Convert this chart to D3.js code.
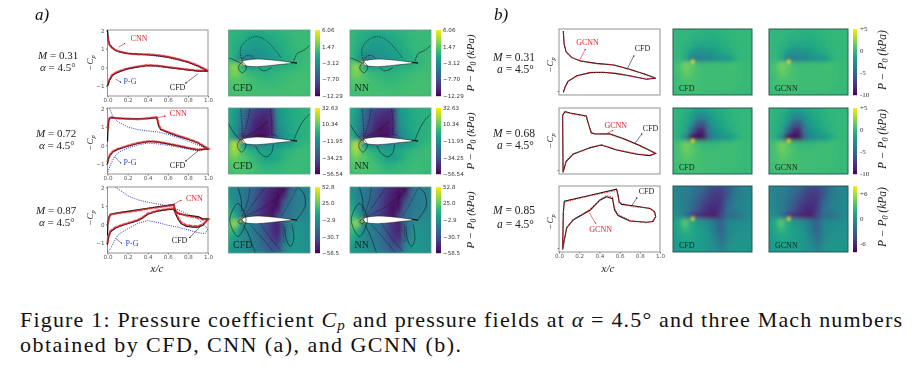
<!DOCTYPE html>
<html>
<head>
<meta charset="utf-8">
<script src="https://cdnjs.cloudflare.com/ajax/libs/d3/7.8.5/d3.min.js"></script>
<style>
	html, body { margin: 0; padding: 0; background: #fff; }
	svg { display: block; font-family: 'Liberation Serif', serif; }
	.tick text { font-family: 'DejaVu Sans', sans-serif; fill: #555; }
	.tick line, .axis path { stroke: #777; }
</style>
</head>
<body>
<svg id="chart" width="918" height="372"></svg>
<script>
const WIDTH = 918;
const HEIGHT = 372;

// Cp curves, [x/c, -Cp]
const cfdA1 = [[0, 2], [0.005, 1.7], [0.01, 1.45], [0.02, 1.25], [0.04, 1.1], [0.07, 0.95], [0.1, 0.87], [0.15, 0.8], [0.2, 0.76], [0.3, 0.72], [0.4, 0.68], [0.5, 0.63], [0.6, 0.55], [0.7, 0.43], [0.8, 0.28], [0.9, 0.07], [1, -0.2], [0.9, -0.2], [0.8, -0.14], [0.7, -0.07], [0.6, 0], [0.5, 0.08], [0.4, 0.1], [0.3, 0.03], [0.2, -0.08], [0.15, -0.17], [0.1, -0.27], [0.05, -0.42], [0.02, -0.7], [0.005, -0.95], [0, -1]];
const cnnA1 = [[0.005, 1.6], [0.01, 1.4], [0.02, 1.22], [0.04, 1.08], [0.07, 0.97], [0.1, 0.88], [0.15, 0.82], [0.2, 0.75], [0.3, 0.7], [0.4, 0.7], [0.5, 0.66], [0.6, 0.58], [0.7, 0.45], [0.8, 0.3], [0.9, 0.1], [1, -0.18], [0.9, -0.17], [0.8, -0.12], [0.7, -0.05], [0.6, 0.02], [0.5, 0.09], [0.4, 0.12], [0.3, 0.05], [0.2, -0.06], [0.15, -0.14], [0.1, -0.24], [0.05, -0.38], [0.02, -0.65], [0.005, -0.9]];
const pgA1 = [[0, 2], [0.005, 1.65], [0.01, 1.42], [0.02, 1.23], [0.04, 1.09], [0.07, 0.94], [0.1, 0.85], [0.2, 0.75], [0.4, 0.67], [0.6, 0.53], [0.8, 0.27], [1, -0.2], [0.8, -0.15], [0.6, -0.02], [0.4, 0.09], [0.2, -0.09], [0.1, -0.29], [0.05, -0.45], [0.02, -0.72], [0, -1.05]];
const cfdA2 = [[0, -1], [0.01, -0.7], [0.03, -0.5], [0.06, -0.33], [0.1, -0.22], [0.2, -0.05], [0.3, 0.1], [0.4, 0.2], [0.45, 0.2], [0.5, 0.17], [0.6, 0.08], [0.7, -0.03], [0.8, -0.15], [0.9, -0.25], [1, -0.2], [0.9, 0.13], [0.8, 0.33], [0.7, 0.5], [0.6, 0.7], [0.53, 0.85], [0.51, 1.05], [0.5, 1.3], [0.49, 1.5], [0.4, 1.45], [0.3, 1.43], [0.2, 1.43], [0.1, 1.47], [0.04, 1.5], [0.02, 1.45], [0.01, 1.3], [0.005, 0.9], [0, 0.2]];
const cnnA2 = [[0, -0.9], [0.01, -0.68], [0.03, -0.46], [0.06, -0.3], [0.1, -0.2], [0.2, -0.02], [0.3, 0.13], [0.4, 0.22], [0.45, 0.22], [0.5, 0.19], [0.6, 0.1], [0.7, -0.01], [0.8, -0.13], [0.9, -0.23], [1, -0.17], [0.9, 0.15], [0.8, 0.36], [0.7, 0.53], [0.6, 0.72], [0.53, 0.88], [0.51, 1.1], [0.5, 1.34], [0.49, 1.52], [0.4, 1.47], [0.3, 1.41], [0.2, 1.45], [0.1, 1.45], [0.04, 1.52], [0.02, 1.47], [0.01, 1.25], [0.005, 0.85]];
const pgA2 = [[0.02, 2], [0.05, 1.6], [0.1, 1.28], [0.2, 1], [0.3, 0.85], [0.4, 0.78], [0.5, 0.72], [0.6, 0.6], [0.7, 0.42], [0.8, 0.23], [0.9, 0.02], [1, -0.2], [0.9, -0.3], [0.8, -0.2], [0.7, -0.1], [0.6, 0], [0.5, 0.08], [0.4, 0.12], [0.3, 0.02], [0.2, -0.15], [0.12, -0.35], [0.07, -0.6], [0.03, -1.05], [0, -1.5]];
const cfdA3 = [[0, -1.1], [0.01, -0.7], [0.03, -0.4], [0.08, -0.2], [0.15, -0.05], [0.2, 0.03], [0.3, 0.2], [0.35, 0.35], [0.4, 0.55], [0.5, 0.72], [0.6, 0.8], [0.66, 0.82], [0.68, 0.55], [0.7, 0.3], [0.73, 0.05], [0.78, -0.1], [0.85, -0.15], [0.9, -0.15], [0.95, -0.05], [1, 0.3], [0.95, 0.3], [0.9, 0.42], [0.8, 0.48], [0.72, 0.55], [0.69, 0.62], [0.67, 0.8], [0.66, 1.08], [0.6, 1.03], [0.5, 0.95], [0.4, 0.87], [0.3, 0.78], [0.2, 0.7], [0.1, 0.62], [0.03, 0.55], [0.015, 0.4], [0.005, 0.1], [0, -0.6]];
const cnnA3 = [[0, -1], [0.01, -0.65], [0.03, -0.36], [0.08, -0.16], [0.15, -0.02], [0.2, 0.06], [0.3, 0.23], [0.35, 0.38], [0.4, 0.58], [0.5, 0.75], [0.6, 0.83], [0.66, 0.85], [0.68, 0.6], [0.7, 0.38], [0.73, 0.12], [0.78, -0.04], [0.85, -0.1], [0.9, -0.1], [0.95, 0], [1, 0.25], [0.95, 0.25], [0.9, 0.36], [0.8, 0.45], [0.72, 0.58], [0.69, 0.66], [0.67, 0.84], [0.66, 1.05], [0.6, 1], [0.5, 0.92], [0.4, 0.84], [0.3, 0.75], [0.2, 0.67], [0.1, 0.6], [0.03, 0.52], [0.015, 0.36], [0.005, 0.05]];
const pgA3 = [[0.08, 2], [0.15, 1.75], [0.2, 1.55], [0.3, 1.33], [0.4, 1.2], [0.5, 1.1], [0.6, 1], [0.7, 0.8], [0.8, 0.55], [0.9, 0.3], [1, -0.25], [0.97, -0.5], [0.9, -0.45], [0.8, -0.3], [0.7, -0.15], [0.6, -0.05], [0.5, 0.1], [0.4, 0.2], [0.3, 0.05], [0.2, -0.25], [0.15, -0.4], [0.1, -0.6], [0.07, -0.9], [0.03, -1.3], [0, -1.5]];

const cfdB1 = [[0.043, 2], [0.05, 1.37], [0.07, 0.96], [0.125, 0.68], [0.21, 0.5], [0.37, 0.38], [0.54, 0.3], [0.7, 0.09], [0.865, -0.19], [0.957, -0.36], [0.865, -0.41], [0.7, -0.24], [0.57, -0.13], [0.44, -0.06], [0.31, -0.08], [0.175, -0.24], [0.09, -0.52], [0.06, -0.8], [0.043, -1.07]];
const gcnnB1 = [[0.043, 1.96], [0.05, 1.34], [0.07, 0.98], [0.125, 0.66], [0.21, 0.52], [0.37, 0.36], [0.54, 0.32], [0.7, 0.07], [0.865, -0.17], [0.957, -0.35], [0.865, -0.39], [0.7, -0.26], [0.57, -0.11], [0.44, -0.08], [0.31, -0.06], [0.175, -0.26], [0.09, -0.5], [0.06, -0.78], [0.043, -1.05]];
const cfdB2 = [[0.04, -1.12], [0.036, 1.74], [0.06, 1.92], [0.11, 1.85], [0.27, 1.7], [0.29, 1.32], [0.32, 0.85], [0.355, 0.8], [0.5, 0.81], [0.635, 0.57], [0.8, 0.23], [0.957, -0.17], [0.9, -0.28], [0.77, -0.21], [0.57, 0], [0.42, 0.25], [0.31, 0.12], [0.14, -0.21], [0.07, -0.58], [0.04, -1.12]];
const gcnnB2 = [[0.04, -1.1], [0.036, 1.72], [0.06, 1.9], [0.11, 1.83], [0.27, 1.68], [0.29, 1.35], [0.32, 0.88], [0.355, 0.82], [0.5, 0.79], [0.635, 0.55], [0.8, 0.21], [0.957, -0.15], [0.9, -0.26], [0.77, -0.19], [0.57, 0.02], [0.42, 0.27], [0.31, 0.1], [0.14, -0.19], [0.07, -0.56], [0.04, -1.1]];
const cfdB3 = [[0.036, -1.08], [0.043, 0.81], [0.053, 1.34], [0.31, 1.64], [0.57, 1.94], [0.585, 1.64], [0.595, 1.31], [0.62, 1.18], [0.73, 1.11], [0.9, 0.98], [0.947, 0.81], [0.957, 0.57], [0.93, 0.32], [0.865, 0.29], [0.7, 0.35], [0.585, 0.62], [0.55, 0.9], [0.53, 1.47], [0.47, 1.56], [0.405, 1.39], [0.31, 0.9], [0.14, 0.4], [0.076, 0], [0.05, -0.67], [0.036, -1.08]];
const gcnnB3 = [[0.036, -1.05], [0.043, 0.78], [0.053, 1.3], [0.31, 1.61], [0.57, 1.88], [0.585, 1.6], [0.595, 1.25], [0.62, 1.24], [0.73, 1.06], [0.9, 1], [0.947, 0.78], [0.957, 0.55], [0.93, 0.36], [0.865, 0.26], [0.7, 0.38], [0.585, 0.68], [0.55, 0.98], [0.53, 1.54], [0.47, 1.62], [0.405, 1.42], [0.31, 0.94], [0.14, 0.42], [0.076, 0.02], [0.05, -0.64], [0.036, -1.05]];

// pressure fields, kPa, 16 columns by 12 rows
const fieldA1 = [
	[0, 0, -0.2, -0.3, -0.5, -0.6, -0.6, -0.5, -0.4, -0.3, -0.1, 0, 0, 0.1, 0.1, 0.1],
	[0, -0.2, -0.4, -0.8, -1, -1.2, -1.2, -1, -0.9, -0.6, -0.3, -0.1, 0, 0.1, 0.1, 0.1],
	[0, -0.2, -0.6, -1, -1.5, -1.8, -1.8, -1.6, -1.3, -0.9, -0.5, -0.2, 0, 0.1, 0.1, 0.2],
	[0.1, -0.2, -0.8, -1.5, -2, -2.3, -2.3, -2, -1.6, -1.2, -0.7, -0.3, -0.1, 0.1, 0.2, 0.2],
	[0.2, -0.2, -1, -2.5, -3, -3, -2.8, -2.5, -2, -1.5, -1, -0.5, -0.2, 0, 0.2, 0.3],
	[0.4, 0.3, -1.5, -5, -4.5, -3.5, -3.2, -2.8, -2.3, -1.8, -1.2, -0.7, -0.3, 0, 0.2, 0.3],
	[0.6, 1.5, 3, -1, -2, -2, -1.8, -1.5, -1.2, -1, -0.7, -0.5, -0.2, 0.2, 0.3, 0.4],
	[0.6, 1.5, 2.5, 1, 0.2, -0.2, -0.4, -0.6, -0.4, -0.2, 0, 0.1, 0.3, 0.4, 0.4, 0.4],
	[0.5, 1, 1.3, 1, 0.6, 0.3, 0, -0.3, -0.2, 0.1, 0.3, 0.4, 0.5, 0.5, 0.5, 0.4],
	[0.4, 0.6, 0.8, 0.8, 0.6, 0.5, 0.3, 0.2, 0.2, 0.3, 0.4, 0.5, 0.5, 0.5, 0.4, 0.4],
	[0.3, 0.4, 0.5, 0.6, 0.6, 0.5, 0.4, 0.4, 0.4, 0.4, 0.4, 0.5, 0.5, 0.4, 0.4, 0.3],
	[0.2, 0.3, 0.4, 0.5, 0.5, 0.5, 0.4, 0.4, 0.4, 0.4, 0.4, 0.4, 0.4, 0.3, 0.3, 0.3]
];
const fieldA2 = [
	[-1, -2, -7, -18, -30, -34, -38, -40, -40, -8, -4, -2, -1, 0, 0, 0],
	[-1, -2, -8, -20, -32, -38, -42, -44, -42, -9, -5, -3, -1, 0, 0, 1],
	[-1, -3, -9, -22, -34, -42, -46, -48, -44, -10, -6, -3, -1, 0, 1, 1],
	[0, -3, -10, -24, -36, -46, -50, -50, -46, -12, -7, -4, -2, 0, 1, 2],
	[0, -2, -12, -28, -40, -48, -52, -52, -46, -15, -8, -4, -2, 0, 1, 2],
	[2, 1, -14, -42, -48, -52, -54, -54, -44, -20, -10, -5, -2, 0, 1, 2],
	[5, 10, 24, -8, -14, -16, -16, -14, -12, -10, -7, -5, -1, 2, 3, 3],
	[5, 12, 20, 8, 2, -1, -4, -6, -5, -3, 0, 2, 3, 4, 4, 3],
	[5, 10, 12, 9, 6, 2, -2, -6, -6, -3, 1, 3, 4, 4, 4, 3],
	[4, 7, 9, 8, 7, 5, 2, 0, 0, 2, 3, 4, 4, 4, 3, 3],
	[3, 5, 7, 7, 6, 6, 4, 3, 3, 3, 4, 4, 4, 3, 3, 2],
	[2, 4, 5, 6, 6, 5, 4, 4, 4, 4, 4, 3, 3, 3, 2, 2]
];
const fieldA3 = [
	[-2, -4, -8, -12, -18, -24, -32, -40, -46, -50, -52, -50, -14, -10, -9, -8],
	[0, -3, -8, -12, -18, -25, -34, -42, -48, -52, -54, -24, -14, -10, -9, -8],
	[2, -1, -7, -12, -18, -26, -36, -44, -50, -54, -46, -18, -13, -10, -9, -8],
	[8, 5, -5, -12, -20, -28, -38, -46, -52, -54, -28, -16, -12, -10, -8, -7],
	[14, 12, -3, -14, -22, -30, -40, -48, -54, -48, -20, -15, -12, -9, -8, -6],
	[18, 18, 10, -18, -26, -34, -42, -50, -54, -32, -18, -14, -11, -8, -7, -6],
	[20, 22, 34, -4, -8, -14, -22, -32, -42, -48, -20, -8, -3, -4, -5, -5],
	[16, 18, 12, -5, -9, -15, -22, -32, -44, -48, -20, -5, 0, -4, -5, -5],
	[9, 10, 4, -5, -9, -14, -20, -30, -40, -44, -16, -3, 1, -4, -5, -5],
	[3, 4, 0, -4, -8, -12, -18, -26, -34, -36, -10, -2, 0, -4, -4, -4],
	[0, 1, -1, -3, -6, -10, -15, -21, -26, -26, -6, -1, -1, -3, -4, -4],
	[-1, 0, -1, -2, -4, -8, -11, -15, -18, -14, -4, -1, -1, -3, -3, -3]
];
const fieldB1 = [
	[0, 0, 0, -0.1, -0.1, -0.2, -0.2, -0.2, -0.2, -0.2, -0.1, -0.1, 0, 0, 0, 0],
	[0, 0, -0.1, -0.1, -0.2, -0.3, -0.4, -0.4, -0.3, -0.3, -0.2, -0.1, 0, 0, 0, 0],
	[0, 0, -0.1, -0.2, -0.4, -0.6, -0.7, -0.7, -0.6, -0.4, -0.3, -0.1, 0, 0, 0, 0],
	[0, 0, -0.1, -0.3, -0.7, -1.1, -1.2, -1.1, -0.9, -0.7, -0.4, -0.2, -0.1, 0, 0, 0],
	[0, 0, -0.2, -0.6, -1.6, -2.4, -2.3, -2, -1.6, -1.2, -0.8, -0.3, -0.1, 0, 0, 0],
	[0, 0, -0.2, -1, -3.8, -3.8, -3.4, -3, -2.7, -2.3, -1.9, -1, -0.2, 0, 0, 0],
	[0.1, 0.2, 0.5, 1.8, 1.2, 0.4, 0.3, 0.3, 0.3, 0.3, 0.4, 0.5, 0.2, 0.1, 0.1, 0],
	[0.1, 0.2, 0.5, 1.4, 1, 0.5, 0.3, 0.3, 0.3, 0.3, 0.3, 0.3, 0.2, 0.1, 0.1, 0],
	[0.1, 0.2, 0.4, 0.7, 0.7, 0.5, 0.3, 0.3, 0.3, 0.3, 0.3, 0.2, 0.2, 0.1, 0.1, 0],
	[0.1, 0.1, 0.3, 0.4, 0.5, 0.4, 0.3, 0.3, 0.3, 0.2, 0.2, 0.2, 0.1, 0.1, 0, 0],
	[0, 0.1, 0.2, 0.3, 0.3, 0.3, 0.2, 0.2, 0.2, 0.2, 0.2, 0.1, 0.1, 0, 0, 0],
	[0, 0.1, 0.1, 0.2, 0.2, 0.2, 0.2, 0.2, 0.1, 0.1, 0.1, 0.1, 0, 0, 0, 0]
];
const fieldB2 = [
	[0, -0.1, -0.2, -0.4, -0.7, -0.9, -1, -0.9, -0.7, -0.5, -0.3, -0.1, 0, 0, 0, 0],
	[0, -0.1, -0.3, -0.5, -1, -1.6, -1.8, -1.3, -1, -0.7, -0.4, -0.2, -0.1, 0, 0, 0],
	[0, -0.1, -0.3, -0.7, -1.4, -2.8, -3.2, -2, -1.3, -0.9, -0.5, -0.3, -0.1, 0, 0, 0],
	[0, -0.1, -0.4, -0.9, -2.4, -5.5, -6, -2.8, -1.7, -1.1, -0.7, -0.3, -0.1, 0, 0, 0],
	[0, -0.1, -0.5, -1.2, -4.8, -8.5, -8.5, -3.8, -2.2, -1.6, -1, -0.5, -0.2, 0, 0, 0],
	[0, -0.1, -0.6, -2.6, -9.5, -10, -9.5, -4.2, -3, -2.5, -2, -1.1, -0.3, 0, 0, 0],
	[0.1, 0.2, 0.5, 1.8, 1, 0.2, 0, 0, 0, 0.2, 0.3, 0.4, 0.2, 0.1, 0, 0],
	[0.1, 0.3, 0.6, 1.5, 1.1, 0.6, 0.3, 0.3, 0.3, 0.3, 0.3, 0.3, 0.2, 0.1, 0, 0],
	[0.1, 0.3, 0.5, 0.9, 0.8, 0.6, 0.4, 0.4, 0.4, 0.3, 0.3, 0.2, 0.2, 0.1, 0, 0],
	[0.1, 0.2, 0.4, 0.6, 0.6, 0.5, 0.4, 0.4, 0.3, 0.3, 0.2, 0.2, 0.1, 0.1, 0, 0],
	[0.1, 0.1, 0.3, 0.4, 0.4, 0.4, 0.3, 0.3, 0.3, 0.2, 0.2, 0.1, 0.1, 0, 0, 0],
	[0, 0.1, 0.2, 0.3, 0.3, 0.3, 0.3, 0.2, 0.2, 0.2, 0.1, 0.1, 0.1, 0, 0, 0]
];
const fieldB3 = [
	[-0.6, -0.8, -1, -1.2, -1.5, -2, -2.6, -3.2, -3.6, -3.8, -3.2, -1.8, -1, -0.7, -0.6, -0.6],
	[-0.6, -0.8, -1, -1.2, -1.6, -2.2, -3, -4, -4.6, -4.6, -3.6, -2, -1.1, -0.8, -0.6, -0.6],
	[-0.5, -0.7, -0.9, -1.2, -1.8, -2.6, -3.6, -4.6, -5.2, -5.2, -3.6, -1.8, -1.1, -0.8, -0.6, -0.5],
	[-0.4, -0.6, -0.9, -1.3, -2, -3.2, -4.4, -5.4, -5.8, -5.4, -3, -1.6, -1, -0.7, -0.5, -0.5],
	[-0.2, -0.4, -0.7, -1.4, -2.6, -4, -5.2, -6, -6.2, -5, -2.4, -1.4, -1, -0.6, -0.5, -0.4],
	[0, 0, -0.3, -1.6, -4.6, -5.6, -6.2, -6.6, -6.6, -4.4, -2.4, -2.4, -1.6, -0.7, -0.4, -0.3],
	[0.4, 0.8, 1.6, 3.8, 1.6, 0.6, 0, -0.6, -2, -3, -1, -0.4, -0.3, -0.2, -0.2, -0.2],
	[0.4, 0.8, 1.4, 2.6, 1.6, 1, 0.5, -0.3, -1.8, -3, -1, -0.2, 0, 0, 0, 0],
	[0.4, 0.6, 1, 1.6, 1.4, 1, 0.6, 0, -1.2, -2.4, -0.8, 0, 0.2, 0.2, 0.1, 0],
	[0.3, 0.5, 0.7, 1, 1, 0.8, 0.6, 0.1, -0.7, -1.6, -0.4, 0.2, 0.4, 0.4, 0.2, 0.2],
	[0.2, 0.4, 0.5, 0.7, 0.8, 0.7, 0.6, 0.3, -0.2, -0.8, 0, 0.4, 0.5, 0.4, 0.3, 0.2],
	[0.2, 0.3, 0.4, 0.5, 0.6, 0.6, 0.5, 0.4, 0.2, 0, 0.3, 0.5, 0.5, 0.4, 0.3, 0.2]
];

const ticksA1 = [6.06, 1.47, -3.12, -7.70, -12.29];
const ticksA2 = [32.63, 10.34, -11.95, -34.25, -56.54];
const ticksA3 = [52.8, 25.0, -2.9, -30.7, -58.5];
const ticksB12 = [5, 0, -5, -10];
const ticksB3 = [6, 0, -6];

// airfoil and contour lines, as fractions of the field panel
const airfoil = [[0.165, 0.5], [0.18, 0.47], [0.25, 0.45], [0.35, 0.44], [0.5, 0.45], [0.65, 0.47], [0.8, 0.495], [0.84, 0.5], [0.8, 0.505], [0.65, 0.52], [0.5, 0.54], [0.35, 0.555], [0.25, 0.55], [0.18, 0.53]];
const contoursA1 = [
	{ dash: false, pts: [[0, 0.42], [0.08, 0.46], [0.15, 0.5]] },
	{ dash: false, pts: [[0.8, 0.48], [0.84, 0.36], [0.92, 0.31], [1, 0.23]] },
	{ dash: true, pts: [[0.165, 0.47], [0.145, 0.3], [0.2, 0.18], [0.33, 0.1], [0.45, 0.15], [0.57, 0.3], [0.65, 0.43]] },
	{ dash: true, pts: [[0.165, 0.47], [0.2, 0.4], [0.27, 0.39], [0.33, 0.45]] },
	{ dash: false, pts: [[0.37, 0.57], [0.43, 0.62], [0.53, 0.57]] },
	{ closed: true, pts: [[0.17, 0.49], [0.22, 0.57], [0.17, 0.65], [0.12, 0.57]] }
];
const contoursA2 = [
	{ dash: false, pts: [[0, 0.24], [0.08, 0.4], [0.16, 0.5]] },
	{ dash: false, pts: [[0.8, 0.5], [0.84, 0.37], [0.92, 0.19], [1, 0.09]] },
	{ dash: true, pts: [[0.15, 0], [0.165, 0.25], [0.17, 0.47]] },
	{ dash: true, pts: [[0.265, 0], [0.235, 0.19], [0.18, 0.45]] },
	{ dash: true, pts: [[0.18, 0.45], [0.33, 0.35], [0.49, 0.2]] },
	{ dash: true, pts: [[0.51, 0], [0.53, 0.19], [0.53, 0.42]] },
	{ dash: true, pts: [[0.53, 0.4], [0.59, 0.42], [0.61, 0.46]] },
	{ dash: false, pts: [[0.33, 0.57], [0.39, 0.69], [0.47, 0.74], [0.53, 0.67], [0.55, 0.55]] },
	{ closed: true, pts: [[0.16, 0.47], [0.213, 0.57], [0.16, 0.67], [0.107, 0.57]] }
];
const contoursA3 = [
	{ closed: true, pts: [[0.115, 0.25], [0.215, 0.5], [0.115, 0.75], [0.015, 0.5]] },
	{ closed: true, pts: [[0.15, 0.49], [0.18, 0.525], [0.15, 0.56], [0.12, 0.525]] },
	{ dash: false, pts: [[0.115, 0], [0.155, 0.19], [0.16, 0.37]] },
	{ dash: false, pts: [[0.18, 0.57], [0.245, 0.72], [0.3, 0.9], [0.33, 1]] },
	{ dash: true, pts: [[0.16, 0.47], [0.235, 0.22], [0.265, 0]] },
	{ dash: true, pts: [[0.18, 0.47], [0.31, 0.24], [0.45, 0]] },
	{ dash: true, pts: [[0.2, 0.45], [0.41, 0.32], [0.57, 0.19], [0.73, 0]] },
	{ dash: true, dense: true, pts: [[0.84, 0.015], [0.755, 0.22], [0.65, 0.44]] },
	{ dash: false, pts: [[0.84, 0], [0.92, 0.09], [0.94, 0.29], [0.84, 0.49]] },
	{ dash: false, pts: [[0.78, 0.57], [0.8, 0.8], [0.76, 0.9], [0.71, 0.8], [0.69, 0.6]] },
	{ dash: true, pts: [[0.265, 0.57], [0.41, 0.77], [0.55, 0.98]] },
	{ dash: true, pts: [[0.39, 0.55], [0.53, 0.8], [0.65, 0.97]] },
	{ dash: true, dense: true, pts: [[0.67, 0.57], [0.68, 0.85]] }
];

const leftRows = [
	{
		top: 30, bottom: 96, cfd: cfdA1, net: cnnA1, pg: pgA1, field: fieldA1, ticks: ticksA1,
		domain: [-12.29, 6.06], contours: contoursA1, glow: 6, m: '0.31',
		mx: 38, ax: 40, mBase: 59, aBase: 71, cpMid: 63,
		notes: [
			{ text: 'CNN', color: '#d8262c', at: [0.23, 1.4], tip: [0.17, 1.28] },
			{ text: 'P-G', color: '#3446c8', at: [0.16, -0.9], tip: [0.13, -0.8], from: [0.08, -0.63] },
			{ text: 'CFD', color: '#222', at: [0.62, -1.2], tip: [0.78, -0.85], from: [0.9, -0.35] }
		]
	},
	{
		top: 108, bottom: 174, cfd: cfdA2, net: cnnA2, pg: pgA2, field: fieldA2, ticks: ticksA2,
		domain: [-56.54, 32.63], contours: contoursA2, glow: 32, m: '0.72',
		mx: 36, ax: 39, mBase: 137, aBase: 149, cpMid: 143,
		notes: [
			{ text: 'CNN', color: '#d8262c', at: [0.62, 1.6], tip: [0.57, 1.58], from: [0.5, 1.5] },
			{ text: 'P-G', color: '#3446c8', at: [0.16, -1.08], tip: [0.13, -0.95], from: [0.07, -0.6] },
			{ text: 'CFD', color: '#222', at: [0.62, -1.2], tip: [0.78, -0.85], from: [0.9, -0.3] }
		]
	},
	{
		top: 187, bottom: 253, cfd: cfdA3, net: cnnA3, pg: pgA3, field: fieldA3, ticks: ticksA3,
		domain: [-58.5, 52.8], contours: contoursA3, glow: 52, m: '0.87',
		mx: 36, ax: 39, mBase: 214, aBase: 226, cpMid: 218,
		notes: [
			{ text: 'CNN', color: '#d8262c', at: [0.78, 1.25], tip: [0.73, 1.3], from: [0.66, 1.1] },
			{ text: 'P-G', color: '#3446c8', at: [0.18, -1.18], tip: [0.14, -1.02], from: [0.08, -0.75] },
			{ text: 'CFD', color: '#222', at: [0.64, -1.02], tip: [0.82, -0.7], from: [0.92, -0.15] }
		]
	}
];
const rightRows = [
	{
		top: 29, bottom: 95, cfd: cfdB1, net: gcnnB1, field: fieldB1, ticks: ticksB12,
		domain: [-10, 5], glow: 5, m: '0.31', mBase: 61, aBase: 73, cpMid: 65,
		notes: [
			{ text: 'GCNN', color: '#d8262c', at: [0.17, 1.28], tip: [0.26, 1.08], from: [0.2, 0.5] },
			{ text: 'CFD', color: '#222', at: [0.75, 1], tip: [0.74, 0.75], from: [0.68, 0.15] }
		]
	},
	{
		top: 108, bottom: 174, cfd: cfdB2, net: gcnnB2, field: fieldB2, ticks: ticksB12,
		domain: [-10, 5], glow: 5, m: '0.68', mBase: 137, aBase: 149, cpMid: 141,
		notes: [
			{ text: 'GCNN', color: '#d8262c', at: [0.45, 1.12], tip: [0.53, 0.97], from: [0.47, 0.82] },
			{ text: 'CFD', color: '#222', at: [0.83, 0.97], tip: [0.82, 0.8], from: [0.75, 0.32] }
		]
	},
	{
		top: 186, bottom: 252, cfd: cfdB3, net: gcnnB3, field: fieldB3, ticks: ticksB3,
		domain: [-8, 8], glow: 8, m: '0.85', mBase: 214, aBase: 228, cpMid: 222,
		notes: [
			{ text: 'GCNN', color: '#d8262c', at: [0.3, -0.22], tip: [0.36, 0.25], from: [0.29, 0.85] },
			{ text: 'CFD', color: '#222', at: [0.79, 1.72], tip: [0.77, 1.5], from: [0.72, 1.12] }
		]
	}
];

const svg = d3.select('#chart');
const defs = svg.append('defs');
defs.append('filter').attr('id', 'fieldBlur')
	.attr('x', '-20%').attr('y', '-20%').attr('width', '140%').attr('height', '140%')
	.append('feGaussianBlur').attr('stdDeviation', 2.1);
defs.append('filter').attr('id', 'glowBlur')
	.attr('x', '-200%').attr('y', '-200%').attr('width', '500%').attr('height', '500%')
	.append('feGaussianBlur').attr('stdDeviation', 1.5);
defs.append('filter').attr('id', 'soft')
	.attr('x', '0').attr('y', '0').attr('width', WIDTH).attr('height', HEIGHT)
	.attr('filterUnits', 'userSpaceOnUse')
	.append('feGaussianBlur').attr('stdDeviation', 0.35);
defs.append('marker').attr('id', 'head')
	.attr('viewBox', '0 0 6 6').attr('refX', 3).attr('refY', 3)
	.attr('markerWidth', 2.6).attr('markerHeight', 2.6)
	.append('circle').attr('cx', 3).attr('cy', 3).attr('r', 3).attr('fill', 'context-stroke');

const $fig = svg.append('g').attr('filter', 'url(#soft)');
let clipId = 0;

function cpPanel(row, left, right, opts) {
	const x = d3.scaleLinear().domain([0, 1]).range([left, right]);
	const y = d3.scaleLinear().domain(opts.yDomain).range([row.bottom, row.top]);
	const line = d3.line().x(d => x(d[0])).y(d => y(d[1])).curve(d3.curveLinear);

	$fig.append('rect')
		.attr('x', left).attr('y', row.top)
		.attr('width', right - left).attr('height', row.bottom - row.top)
		.attr('fill', '#fff').attr('stroke', '#888').attr('stroke-width', 0.9);

	if (opts.showX) {
		const axisX = d3.axisBottom(x).tickValues([0, 0.2, 0.4, 0.6, 0.8, 1])
			.tickFormat(d3.format('.1f')).tickSize(1.5).tickPadding(1);
		const $x = $fig.append('g').attr('class', 'axis')
			.attr('transform', `translate(0,${row.bottom})`).call(axisX);
		$x.select('.domain').remove();
		$x.selectAll('text').attr('font-size', 5.6);
	}
	const axisY = d3.axisLeft(y).tickValues(opts.yTicks).tickFormat(d3.format('d'))
		.tickSize(1.5).tickPadding(1.5);
	const $y = $fig.append('g').attr('class', 'axis')
		.attr('transform', `translate(${left},0)`).call(axisY);
	$y.select('.domain').remove();
	if (opts.yLabels) {
		$y.selectAll('text').attr('font-size', 5.6);
	} else {
		$y.selectAll('text').remove();
	}

	const $lines = $fig.append('g');
	if (row.pg) {
		$lines.append('path').attr('d', line(row.pg))
			.attr('fill', 'none').attr('stroke', '#2f3fc4').attr('stroke-width', 1)
			.attr('stroke-dasharray', '1 1.2');
	}
	if (opts.halo) {
		$lines.append('path').attr('d', line(row.net))
			.attr('fill', 'none').attr('stroke', '#e8434a').attr('stroke-width', 2.6)
			.attr('opacity', 0.35);
	}
	$lines.append('path').attr('d', line(row.cfd))
		.attr('fill', 'none').attr('stroke', '#111').attr('stroke-width', opts.cfdWidth);
	$lines.append('path').attr('d', line(row.net))
		.attr('fill', 'none').attr('stroke', '#e0242c').attr('stroke-width', opts.netWidth)
		.attr('stroke-dasharray', opts.netDash).attr('opacity', 0.85);

	row.notes.forEach(d => {
		const from = d.from || [d.tip[0] - 0.06, d.tip[1] - 0.18];
		$fig.append('line')
			.attr('x1', x(from[0])).attr('y1', y(from[1]))
			.attr('x2', x(d.tip[0])).attr('y2', y(d.tip[1]))
			.attr('stroke', d.color).attr('stroke-width', 0.6)
			.attr('marker-end', 'url(#head)');
		$fig.append('text')
			.attr('x', x(d.at[0])).attr('y', y(d.at[1]))
			.attr('font-size', 8).attr('fill', d.color).text(d.text);
	});
}

function fieldPanel(row, left, right, label, opts) {
	const w = right - left;
	const h = row.bottom - row.top;
	const color = d3.scaleSequential(d3.interpolateViridis).domain(row.domain);
	const cols = d3.scaleBand().domain(d3.range(row.field[0].length)).range([left - 9, right + 9]);
	const rows = d3.scaleBand().domain(d3.range(row.field.length)).range([row.top - 9, row.bottom + 9]);
	const fx = d3.scaleLinear().domain([0, 1]).range([left, right]);
	const fy = d3.scaleLinear().domain([0, 1]).range([row.top, row.bottom]);

	const id = `panel${clipId++}`;
	defs.append('clipPath').attr('id', id).append('rect')
		.attr('x', left).attr('y', row.top).attr('width', w).attr('height', h);

	const $g = $fig.append('g').attr('clip-path', `url(#${id})`);
	$g.append('g').attr('filter', 'url(#fieldBlur)')
		.selectAll('g')
		.data(row.field)
		.join('g')
		.selectAll('rect')
		.data((d, j) => d.map((v, i) => ({ i, j, v })))
		.join('rect')
		.attr('x', d => cols(d.i))
		.attr('y', d => rows(d.j))
		.attr('width', cols.bandwidth() + 0.5)
		.attr('height', rows.bandwidth() + 0.5)
		.attr('fill', d => color(d.v));

	// stagnation point is hotter than the cells can show after the blur
	$g.append('circle')
		.attr('cx', fx(opts.le[0])).attr('cy', fy(opts.le[1])).attr('r', opts.glowR)
		.attr('fill', color(row.glow)).attr('filter', 'url(#glowBlur)');

	if (opts.airfoil) {
		const shape = d3.line().x(d => fx(d[0])).y(d => fy(d[1])).curve(d3.curveCatmullRomClosed);
		$g.append('path').attr('d', shape(airfoil))
			.attr('fill', '#fff').attr('stroke', '#111').attr('stroke-width', 0.5);
		$g.append('line')
			.attr('x1', fx(0.76)).attr('y1', fy(0.488))
			.attr('x2', fx(0.84)).attr('y2', fy(0.5))
			.attr('stroke', '#111').attr('stroke-width', 1);

		const open = d3.line().x(d => fx(d[0])).y(d => fy(d[1])).curve(d3.curveCatmullRom);
		const closed = d3.line().x(d => fx(d[0])).y(d => fy(d[1])).curve(d3.curveCatmullRomClosed);
		$g.selectAll('.contour')
			.data(opts.contours)
			.join('path')
			.attr('class', 'contour')
			.attr('d', d => (d.closed ? closed(d.pts) : open(d.pts)))
			.attr('fill', 'none')
			.attr('stroke', '#111')
			.attr('stroke-width', 0.55)
			.attr('stroke-dasharray', d => {
				if (d.dense) return '0.7 0.7';
				return d.dash ? '1.6 0.9' : null;
			});
	}

	$fig.append('rect')
		.attr('x', left).attr('y', row.top).attr('width', w).attr('height', h)
		.attr('fill', 'none').attr('stroke', opts.border).attr('stroke-width', opts.borderWidth);

	$fig.append('text')
		.attr('x', left + opts.labelDx).attr('y', row.bottom - opts.labelDy)
		.attr('font-size', opts.labelSize).attr('fill', '#13261f').text(label);
}

function colorBar(row, left, width, opts) {
	const color = d3.scaleSequential(d3.interpolateViridis).domain(row.domain);
	const y = d3.scaleLinear().domain(row.domain).range([row.bottom, row.top]);
	const steps = d3.range(row.bottom - row.top);
	$fig.append('g').selectAll('rect')
		.data(steps)
		.join('rect')
		.attr('x', left)
		.attr('y', d => row.top + d)
		.attr('width', width)
		.attr('height', 1.2)
		.attr('fill', d => color(y.invert(row.top + d + 0.5)));

	row.ticks.forEach(t => {
		$fig.append('text')
			.attr('x', left + width + opts.dx)
			.attr('y', y(t) + 2)
			.attr('font-size', opts.size)
			.attr('font-family', opts.family)
			.attr('fill', '#333')
			.text(opts.format(t));
	});
}

function pressureLabel(x, y, size) {
	const $t = $fig.append('text')
		.attr('transform', `translate(${x},${y}) rotate(-90)`)
		.attr('text-anchor', 'middle')
		.attr('font-size', size)
		.attr('font-style', 'italic')
		.attr('fill', '#222');
	$t.append('tspan').text('P − P');
	$t.append('tspan').attr('font-size', size * 0.7).attr('dy', 2).text('0');
	$t.append('tspan').attr('dy', -2).text(' (kPa)');
}

function cpLabel(x, y) {
	const $t = $fig.append('text')
		.attr('transform', `translate(${x},${y}) rotate(-90)`)
		.attr('text-anchor', 'middle')
		.attr('font-size', 9)
		.attr('font-style', 'italic')
		.attr('fill', '#222');
	$t.append('tspan').text('−C');
	$t.append('tspan').attr('font-size', 6.5).attr('dy', 2).text('p');
}

function conditions(row, mx, ax, size, greek) {
	const $m = $fig.append('text').attr('x', mx).attr('y', row.mBase)
		.attr('font-size', size).attr('fill', '#222');
	$m.append('tspan').attr('font-style', 'italic').text('M');
	$m.append('tspan').text(` = ${row.m}`);
	const $a = $fig.append('text').attr('x', ax).attr('y', row.aBase)
		.attr('font-size', size).attr('fill', '#222');
	$a.append('tspan').attr('font-style', 'italic').text(greek);
	$a.append('tspan').text(' =  4.5°');
}

function setupLeft() {
	const ticksFmt = d3.format('.2f');
	leftRows.forEach((row, i) => {
		conditions(row, row.mx, row.ax, 11, 'α');
		cpLabel(93, row.cpMid);
		cpPanel(row, 107.5, 208, {
			yDomain: [-1.55, 2.02], yTicks: [-1, 0, 1, 2], showX: true, yLabels: true, halo: true,
			cfdWidth: 1.2, netWidth: 1.7, netDash: '4 1.2'
		});
		const common = {
			airfoil: true, contours: row.contours, le: [0.165, 0.5], glowR: 2,
			border: '#5d9f86', borderWidth: 0.8,
			labelDx: 4.5, labelDy: 5.5, labelSize: 10
		};
		fieldPanel(row, 228.5, 310, 'CFD', common);
		fieldPanel(row, 350, 431, 'NN', common);
		const fmt = i === 2 ? (t => d3.format('.1f')(t).replace('-', '−')) : (t => ticksFmt(t).replace('-', '−'));
		[315, 436].forEach(bx => colorBar(row, bx, 5, {
			dx: 2, size: 5.6, family: "'DejaVu Sans', sans-serif", format: fmt
		}));
		pressureLabel(474, (row.top + row.bottom) / 2, 11);
	});
}

function setupRight() {
	rightRows.forEach((row, i) => {
		conditions(row, 493, 497, 11.5, 'a');
		cpLabel(553, row.cpMid);
		cpPanel(row, 559, 660, {
			yDomain: [-1.2, 2.1], yTicks: [-1], showX: i === 2, yLabels: false, halo: false,
			cfdWidth: 1.1, netWidth: 1.1, netDash: '1.5 1'
		});
		const common = {
			airfoil: false, le: [0.25, 0.495], glowR: 2,
			border: '#2a5a52', borderWidth: 1,
			labelDx: 6, labelDy: 4, labelSize: 8
		};
		fieldPanel(row, 673, 752, 'CFD', common);
		fieldPanel(row, 769, 848, 'GCNN', common);
		colorBar(row, 853, 4, {
			dx: 3, size: 7, family: "'Liberation Serif', serif",
			format: t => (t > 0 ? `+${t}` : t === 0 ? '0' : `${t}`)
		});
		pressureLabel(886, (row.top + row.bottom) / 2 - 2, 11.5);
	});
}

function setupHeaders() {
	$fig.append('text').attr('x', 35).attr('y', 20)
		.attr('font-size', 17).attr('font-style', 'italic').attr('fill', '#111').text('a)');
	$fig.append('text').attr('x', 494).attr('y', 20)
		.attr('font-size', 17).attr('font-style', 'italic').attr('fill', '#111').text('b)');

	[[157, 272], [608, 272]].forEach(d => {
		$fig.append('text').attr('x', d[0]).attr('y', d[1])
			.attr('text-anchor', 'middle').attr('font-size', 11)
			.attr('font-style', 'italic').attr('fill', '#222').text('x/c');
	});
}

function setupCaption() {
	const size = 22;
	const $one = svg.append('text').attr('x', 20).attr('y', 327)
		.attr('font-size', size).attr('fill', '#111')
		.attr('textLength', 882).attr('lengthAdjust', 'spacing');
	$one.append('tspan').text('Figure 1: Pressure coefficient ');
	$one.append('tspan').attr('font-style', 'italic').text('C');
	$one.append('tspan').attr('font-style', 'italic').attr('font-size', 15).attr('dy', 3).text('p');
	$one.append('tspan').attr('dy', -3).text(' and pressure fields at ');
	$one.append('tspan').attr('font-style', 'italic').text('α');
	$one.append('tspan').text(' = 4.5° and three Mach numbers');

	svg.append('text').attr('x', 20).attr('y', 352)
		.attr('font-size', size).attr('fill', '#111')
		.attr('textLength', 441).attr('lengthAdjust', 'spacing')
		.text('obtained by CFD, CNN (a), and GCNN (b).');
}

setupHeaders();
setupLeft();
setupRight();
setupCaption();
</script>
</body>
</html>
